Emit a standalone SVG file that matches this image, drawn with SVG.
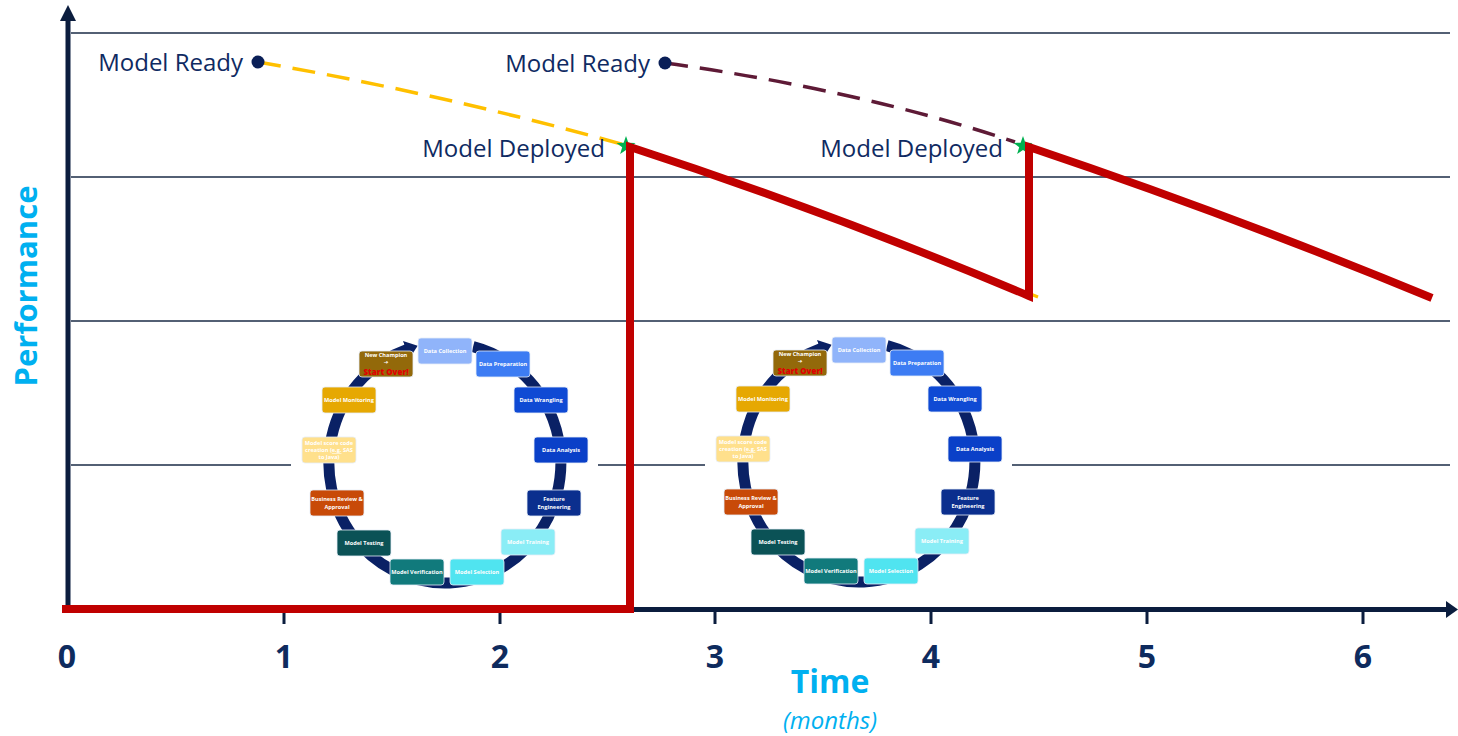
<svg xmlns="http://www.w3.org/2000/svg" xmlns:xlink="http://www.w3.org/1999/xlink" width="1458" height="736" viewBox="0 0 1458 736">
<style>
text{font-family:"Open Sans","Liberation Sans","DejaVu Sans",sans-serif}
.lbl{font-size:24px;fill:#0f2a62}
.tick{font-size:32px;font-weight:700;fill:#0e2b5e;text-anchor:middle}
.grid{stroke:#536074;stroke-width:2}
.axis{stroke:#0b1d3e;stroke-width:5;fill:none}
.tk{stroke:#0b1d3e;stroke-width:3}
.bx{stroke:#e6edf7;stroke-width:0.8}
.bt{font-size:5.6px;font-weight:700;fill:#ffffff;text-anchor:middle}
.so{font-size:8px;font-weight:800;fill:#e00000;text-anchor:middle}
.ring{fill:none;stroke:#0a2165;stroke-width:11}
</style>
<defs>
<marker id="ringHead" markerUnits="userSpaceOnUse" markerWidth="14" markerHeight="20" viewBox="0 -9 12 18" refX="1" refY="0" orient="auto">
<path d="M0,-8.5 L11,0 L0,8.5 Z" fill="#0a2165"/>
</marker>
<polygon id="star" points="0,-10 2.35,-3.24 9.51,-3.09 3.8,1.24 5.88,8.09 0,4 -5.88,8.09 -3.8,1.24 -9.51,-3.09 -2.35,-3.24" fill="#00b050"/>
</defs>
<rect width="1458" height="736" fill="#ffffff"/>

<g id="gridlines">
<line class="grid" x1="71" y1="33" x2="1450" y2="33"/>
<line class="grid" x1="71" y1="177" x2="1450" y2="177"/>
<line class="grid" x1="71" y1="321" x2="1450" y2="321"/>
<line class="grid" x1="71" y1="465" x2="1450" y2="465"/>
</g>

<g id="cycle1">
<rect x="291" y="330" width="307" height="264" fill="#ffffff"/>
<path class="ring" d="M473.1,346.6 A116,120 0 1,1 407.2,349.5" marker-end="url(#ringHead)"/>
<g id="c1-collection"><rect class="bx" x="418" y="338" width="54" height="26" rx="3" fill="#90b4fa"/><text class="bt" x="445" y="353">Data Collection</text></g>
<g id="c1-preparation"><rect class="bx" x="476" y="351" width="54" height="26" rx="3" fill="#3d7cf3"/><text class="bt" x="503" y="366">Data Preparation</text></g>
<g id="c1-wrangling"><rect class="bx" x="514" y="387" width="54" height="26" rx="3" fill="#0f4ad4"/><text class="bt" x="541" y="402">Data Wrangling</text></g>
<g id="c1-analysis"><rect class="bx" x="534" y="437" width="54" height="26" rx="3" fill="#0a40c8"/><text class="bt" x="561" y="452">Data Analysis</text></g>
<g id="c1-feature"><rect class="bx" x="527" y="490" width="54" height="26" rx="3" fill="#0b2f8e"/><text class="bt" x="554" y="501">Feature</text><text class="bt" x="554" y="508.5">Engineering</text></g>
<g id="c1-training"><rect class="bx" x="501" y="529" width="54" height="26" rx="3" fill="#8aedf6"/><text class="bt" x="528" y="544">Model Training</text></g>
<g id="c1-selection"><rect class="bx" x="450" y="559" width="54" height="26" rx="3" fill="#50e4f0"/><text class="bt" x="477" y="574">Model Selection</text></g>
<g id="c1-verification"><rect class="bx" x="390" y="559" width="54" height="26" rx="3" fill="#117a7c"/><text class="bt" x="417" y="574">Model Verification</text></g>
<g id="c1-testing"><rect class="bx" x="337" y="530" width="54" height="26" rx="3" fill="#0b5256"/><text class="bt" x="364" y="545">Model Testing</text></g>
<g id="c1-review"><rect class="bx" x="310" y="490" width="54" height="26" rx="3" fill="#c84a08"/><text class="bt" x="337" y="501">Business Review &amp;</text><text class="bt" x="337" y="508.5">Approval</text></g>
<g id="c1-scorecode"><rect class="bx" x="302" y="437" width="54" height="26" rx="3" fill="#ffe08c"/><text class="bt" x="329" y="445">Model score code</text><text class="bt" x="329" y="452">creation (<tspan text-decoration="underline">e.g.</tspan> SAS</text><text class="bt" x="329" y="459">to Java)</text></g>
<g id="c1-monitoring"><rect class="bx" x="322" y="387" width="54" height="26" rx="3" fill="#e6a802"/><text class="bt" x="349" y="402">Model Monitoring</text></g>
<g id="c1-champion"><rect class="bx" x="359" y="351" width="54" height="26" rx="3" fill="#93690a"/><text class="bt" x="386" y="356.5">New Champion</text><text class="bt" x="386" y="363.5">➔</text><text class="so" x="386" y="374.5">Start Over!</text></g>
</g>

<g id="cycle2" transform="translate(414,-1)">
<rect x="291" y="330" width="307" height="264" fill="#ffffff"/>
<path class="ring" d="M473.1,346.6 A116,120 0 1,1 407.2,349.5" marker-end="url(#ringHead)"/>
<g id="c2-collection"><rect class="bx" x="418" y="338" width="54" height="26" rx="3" fill="#90b4fa"/><text class="bt" x="445" y="353">Data Collection</text></g>
<g id="c2-preparation"><rect class="bx" x="476" y="351" width="54" height="26" rx="3" fill="#3d7cf3"/><text class="bt" x="503" y="366">Data Preparation</text></g>
<g id="c2-wrangling"><rect class="bx" x="514" y="387" width="54" height="26" rx="3" fill="#0f4ad4"/><text class="bt" x="541" y="402">Data Wrangling</text></g>
<g id="c2-analysis"><rect class="bx" x="534" y="437" width="54" height="26" rx="3" fill="#0a40c8"/><text class="bt" x="561" y="452">Data Analysis</text></g>
<g id="c2-feature"><rect class="bx" x="527" y="490" width="54" height="26" rx="3" fill="#0b2f8e"/><text class="bt" x="554" y="501">Feature</text><text class="bt" x="554" y="508.5">Engineering</text></g>
<g id="c2-training"><rect class="bx" x="501" y="529" width="54" height="26" rx="3" fill="#8aedf6"/><text class="bt" x="528" y="544">Model Training</text></g>
<g id="c2-selection"><rect class="bx" x="450" y="559" width="54" height="26" rx="3" fill="#50e4f0"/><text class="bt" x="477" y="574">Model Selection</text></g>
<g id="c2-verification"><rect class="bx" x="390" y="559" width="54" height="26" rx="3" fill="#117a7c"/><text class="bt" x="417" y="574">Model Verification</text></g>
<g id="c2-testing"><rect class="bx" x="337" y="530" width="54" height="26" rx="3" fill="#0b5256"/><text class="bt" x="364" y="545">Model Testing</text></g>
<g id="c2-review"><rect class="bx" x="310" y="490" width="54" height="26" rx="3" fill="#c84a08"/><text class="bt" x="337" y="501">Business Review &amp;</text><text class="bt" x="337" y="508.5">Approval</text></g>
<g id="c2-scorecode"><rect class="bx" x="302" y="437" width="54" height="26" rx="3" fill="#ffe08c"/><text class="bt" x="329" y="445">Model score code</text><text class="bt" x="329" y="452">creation (<tspan text-decoration="underline">e.g.</tspan> SAS</text><text class="bt" x="329" y="459">to Java)</text></g>
<g id="c2-monitoring"><rect class="bx" x="322" y="387" width="54" height="26" rx="3" fill="#e6a802"/><text class="bt" x="349" y="402">Model Monitoring</text></g>
<g id="c2-champion"><rect class="bx" x="359" y="351" width="54" height="26" rx="3" fill="#93690a"/><text class="bt" x="386" y="356.5">New Champion</text><text class="bt" x="386" y="363.5">➔</text><text class="so" x="386" y="374.5">Start Over!</text></g>
</g>

<g id="axes">
<line class="axis" x1="68" y1="611" x2="68" y2="18"/>
<polygon points="68,5 60,21 76,21" fill="#0b1d3e"/>
<line class="axis" x1="66" y1="609.5" x2="1448" y2="609.5"/>
<polygon points="1458,609.5 1446,601 1446,618" fill="#0b1d3e"/>
<line class="tk" x1="284" y1="612" x2="284" y2="624"/>
<line class="tk" x1="500" y1="612" x2="500" y2="624"/>
<line class="tk" x1="715" y1="612" x2="715" y2="624"/>
<line class="tk" x1="931" y1="612" x2="931" y2="624"/>
<line class="tk" x1="1147" y1="612" x2="1147" y2="624"/>
<line class="tk" x1="1363" y1="612" x2="1363" y2="624"/>
<text class="tick" x="67" y="668">0</text>
<text class="tick" x="284" y="668">1</text>
<text class="tick" x="500" y="668">2</text>
<text class="tick" x="715" y="668">3</text>
<text class="tick" x="931" y="668">4</text>
<text class="tick" x="1147" y="668">5</text>
<text class="tick" x="1363" y="668">6</text>
<text x="830" y="693" font-size="32" font-weight="700" fill="#00b0f0" text-anchor="middle">Time</text>
<text x="830" y="728.5" font-size="24" font-style="italic" fill="#00b0f0" text-anchor="middle">(months)</text>
<text transform="translate(37,286) rotate(-90)" font-size="31" font-weight="700" fill="#00b0f0" text-anchor="middle">Performance</text>
</g>

<g id="connectors">
<path d="M258,62 Q444.5,94.5 625,145" fill="none" stroke="#ffc000" stroke-width="3.5" stroke-dasharray="23,12"/>
<path d="M665,63 Q860,90 1015,142" fill="none" stroke="#5e1a36" stroke-width="3.5" stroke-dasharray="23,12"/>
<line x1="1028" y1="293" x2="1038" y2="297" stroke="#ffc000" stroke-width="3"/>
</g>

<g id="ready1"><circle cx="258" cy="62" r="6.5" fill="#0a1f57"/><text class="lbl" x="243" y="71" text-anchor="end">Model Ready</text></g>
<g id="ready2"><circle cx="665" cy="63" r="6.5" fill="#0a1f57"/><text class="lbl" x="650" y="72" text-anchor="end">Model Ready</text></g>
<g id="deployed1"><use xlink:href="#star" x="626" y="146"/><text class="lbl" x="605" y="157" text-anchor="end">Model Deployed</text></g>
<g id="deployed2"><use xlink:href="#star" x="1023" y="146"/><text class="lbl" x="1003" y="157" text-anchor="end">Model Deployed</text></g>

<g id="performance-line">
<path d="M62,609 H630 V147 Q830,212 1029,296 V147 Q1231,215 1432,298" fill="none" stroke="#c00000" stroke-width="8" stroke-linejoin="miter"/>
</g>
</svg>
